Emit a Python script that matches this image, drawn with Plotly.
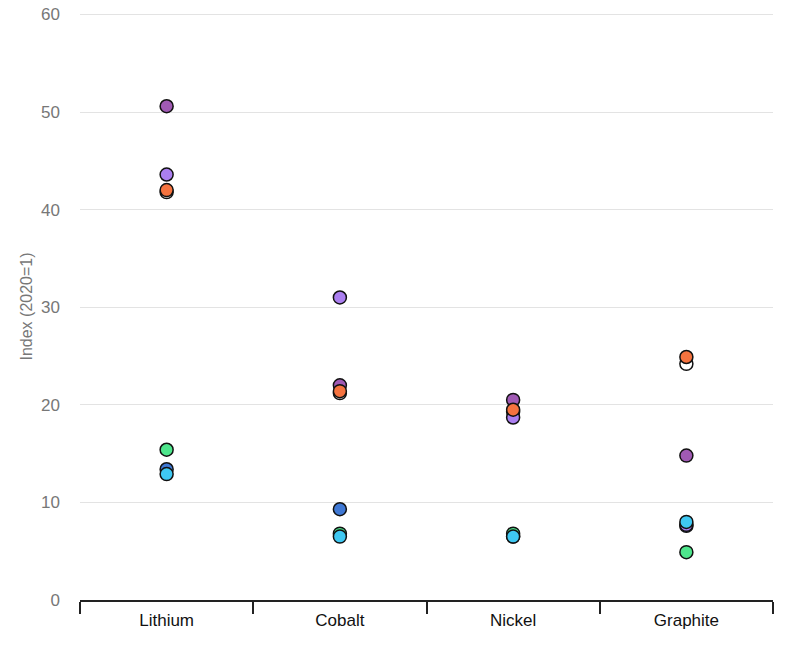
import plotly.graph_objects as go

categories = ["Lithium", "Cobalt", "Nickel", "Graphite"]

# Series values per category (Lithium, Cobalt, Nickel, Graphite); drawn in this order
series_names = ["Series A", "Series B", "Series C", "Series D", "Series E", "Series F", "Series G"]
series_colors = ["#ffffff", "#3f78d4", "#4ee68c", "#a05ab4", "#ab7ff0", "#f5733f", "#3fc8f2"]
values_a = [41.8, 21.2, 19.3, 24.2]   # white
values_b = [13.4, 9.3, 6.5, 7.6]      # blue
values_c = [15.4, 6.8, 6.8, 4.9]      # green
values_d = [50.6, 22.0, 20.5, 14.8]   # purple
values_e = [43.6, 31.0, 18.7, 7.7]    # lavender
values_f = [42.0, 21.4, 19.5, 24.9]   # orange
values_g = [12.9, 6.5, 6.5, 8.0]      # cyan

all_values = [values_a, values_b, values_c, values_d, values_e, values_f, values_g]

y_ticks = [0, 10, 20, 30, 40, 50, 60]

fig = go.Figure()
for name, color, vals in zip(series_names, series_colors, all_values):
    fig.add_trace(go.Scatter(
        x=categories, y=vals, mode="markers", name=name,
        marker=dict(size=13, color=color, line=dict(color="#111111", width=1.5)),
        showlegend=False, cliponaxis=False,
    ))

fig.update_layout(
    width=800, height=667,
    margin=dict(l=80, r=27, t=13, b=67),
    paper_bgcolor="white", plot_bgcolor="white",
    font=dict(family="Liberation Sans, Arial, sans-serif", size=16, color="#666666"),
)
fig.update_xaxes(
    type="category", tickson="boundaries", ticks="outside", ticklen=12,
    tickcolor="#222222", tickwidth=1.5, showline=True, linecolor="#222222", linewidth=1.5,
    showgrid=False, tickfont=dict(color="#111111", size=17), range=[-0.5, 3.5],
    automargin=False, ticklabelstandoff=4,
)
fig.update_yaxes(
    range=[0, 60.15], tickvals=y_ticks, showgrid=True, gridcolor="#e3e3e3", gridwidth=1,
    zeroline=False, ticks="", ticklabelstandoff=19, automargin=False,
    title=dict(text="Index (2020=1)", font=dict(size=16, color="#777777"), standoff=4),
    tickfont=dict(size=17, color="#777777"),
)
fig.write_html("out.html", post_script="document.body.style.margin='0';",
               config={"displayModeBar": False})
